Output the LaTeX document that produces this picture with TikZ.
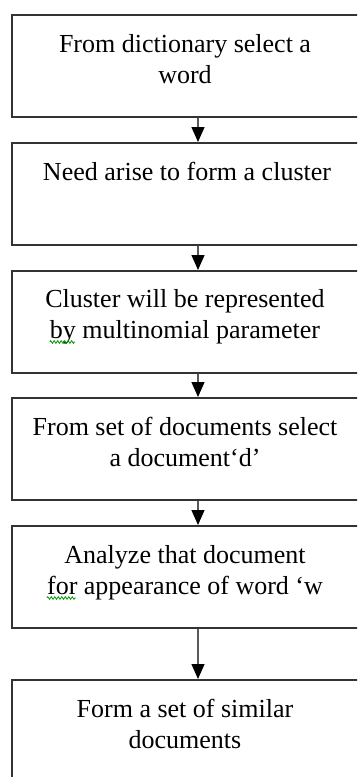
\documentclass[tikz,border=0pt]{standalone}
\usepackage{fontspec}
\setmainfont{Liberation Serif}
\usetikzlibrary{arrows.meta,decorations.pathmorphing}
\begin{document}
\begin{tikzpicture}[x=1pt,y=1pt,
  stepbox/.style={draw=black!80, line width=1.6pt, minimum width=349pt, minimum height=102pt, anchor=north west, inner sep=0pt},
  lbl/.style={anchor=base, font=\fontsize{26}{31}\selectfont, text=black, inner sep=0pt},
  flow/.style={draw=black!65, line width=1.3pt, -{Triangle[length=15pt,width=13pt,color=black]}},
  squig/.style={draw=green!60!black, line width=0.8pt, decorate, decoration={zigzag,segment length=3.5pt,amplitude=1.3pt}}]
\useasboundingbox (0,0) rectangle (357,-777);
\clip (0,0) rectangle (357,-777);
\fill[white] (0,0) rectangle (357,-777);
% boxes
\node[stepbox] (b1) at (11,-14) {};
\node[stepbox] (b2) at (11,-142) {};
\node[stepbox] (b3) at (11,-270) {};
\node[stepbox] (b4) at (11,-397) {};
\node[stepbox] (b5) at (11,-525) {};
\node[stepbox, minimum height=130pt] (b6) at (11,-679) {};
% texts
\node[lbl] (t1a) at (185,-52) {From dictionary select a};
\node[lbl] (t1b) at (185,-83) {word};
\node[lbl] (t2a) at (187,-180) {Need arise to form a cluster};
\node[lbl] (t3a) at (185,-307) {Cluster will be represented};
\node[lbl] (t3b) at (185,-338) {by multinomial parameter};
\node[lbl] (t4a) at (185,-435) {From set of documents select};
\node[lbl] (t4b) at (185,-466) {a document‘d’};
\node[lbl] (t5a) at (185,-563) {Analyze that document};
\node[lbl] (t5b) at (185,-594) {for appearance of word ‘w};
\node[lbl] (t6a) at (185,-717) {Form a set of similar};
\node[lbl] (t6b) at (185,-748) {documents};
% spell-check squiggles
\draw[squig] (t3b.base west) ++(0,-4) -- ++(25,0);
\draw[squig] (t5b.base west) ++(0,-4) -- ++(29,0);
% connectors
\coordinate (ax) at (198,0);
\draw[flow] (b1.south -| ax) -- (b2.north -| ax);
\draw[flow] (b2.south -| ax) -- (b3.north -| ax);
\draw[flow] (b3.south -| ax) -- (b4.north -| ax);
\draw[flow] (b4.south -| ax) -- (b5.north -| ax);
\draw[flow] (b5.south -| ax) -- (b6.north -| ax);
\end{tikzpicture}
\end{document}
